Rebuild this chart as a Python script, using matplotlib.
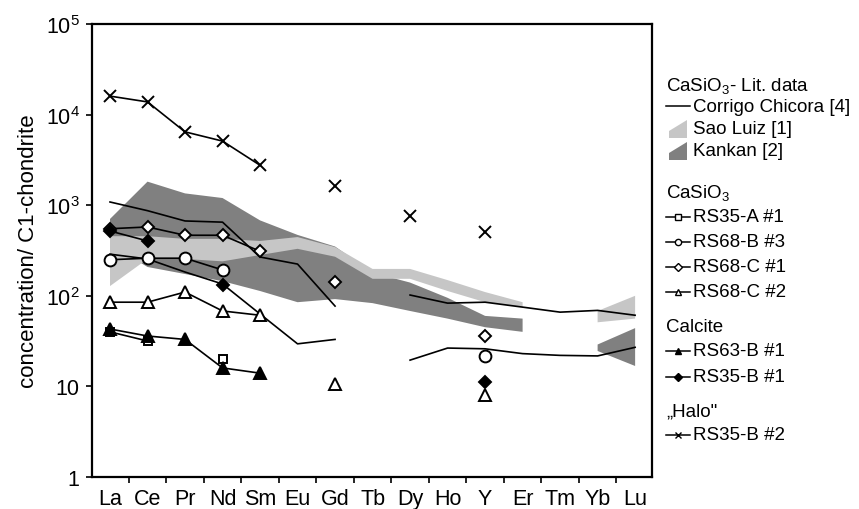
import numpy as np
import matplotlib
matplotlib.use("Agg")
import matplotlib.pyplot as plt
from matplotlib.patches import Polygon
from matplotlib.lines import Line2D

plt.rcParams['font.family'] = ['Liberation Sans', 'DejaVu Sans']
plt.rcParams['mathtext.fontset'] = 'custom'
plt.rcParams['mathtext.rm'] = 'Liberation Sans'
plt.rcParams['mathtext.it'] = 'Liberation Sans:italic'
plt.rcParams['mathtext.bf'] = 'Liberation Sans:bold'

nan = np.nan

# ── REE order (Y placed between Ho and Er) ───────────────────────────────────
elements = ['La', 'Ce', 'Pr', 'Nd', 'Sm', 'Eu', 'Gd', 'Tb',
            'Dy', 'Ho', 'Y', 'Er', 'Tm', 'Yb', 'Lu']

# ── literature data (CaSiO3) ─────────────────────────────────────────────────
# Corrigo Chicora [4] - upper and lower curve
cc_upper = [1085, 870, 670, 650, 268, 224, 77, nan, 102, 83, 85, 75, 66, 69, 61]
cc_lower = [288, 255, 183, 135, 63, 29.5, 33, nan, 19.5, 26.5, 26, 23, 22, 21.7, 27]

# Sao Luiz [1] - band
sl_top = [455, 455, 425, 425, 403, 445, 345, 198, 198, 149, 110, 85, nan, 68, 100]
sl_bot = [128, 255, 255, 240, 282, 330, 270, 154, 154, 113, 85, 75, nan, 51, 56]

# Kankan [2] - band
kk_top = [705, 1820, 1350, 1200, 680, 470, 350, 180, 140, 95, 60, 56, nan, 29, 44]
kk_bot = [370, 208, 174, 145, 113, 85, 92, 83, 68, 56, 45, 40, nan, 24.6, 16.8]

# ── samples ──────────────────────────────────────────────────────────────────
# CaSiO3
rs35a_1 = [40, 31.7, nan, 20, nan, nan, nan, nan, nan, nan, nan, nan, nan, nan, nan]
rs68b_3 = [250, 260, 260, 193, nan, nan, nan, nan, nan, nan, 21.6, nan, nan, nan, nan]
rs68c_1 = [550, 575, 466, 466, 310, nan, 142, nan, nan, nan, 36, nan, nan, nan, nan]
rs68c_2 = [85, 85, 110, 68, 61, nan, 10.6, nan, nan, nan, 8.0, nan, nan, nan, nan]
# Calcite
rs63b_1 = [43, 36, 33, 16, 14, nan, nan, nan, nan, nan, nan, nan, nan, nan, nan]
rs35b_1 = [519, 403, nan, 132, nan, nan, nan, nan, nan, nan, 11.2, nan, nan, nan, nan]
# "Halo"
rs35b_2 = [16000, 13800, 6450, 5100, 2760, nan, 1620, nan, 755, nan, 505,
           nan, nan, nan, nan]

LIGHT = '#c6c6c6'
DARK = '#808080'

x = np.arange(len(elements))

fig = plt.figure(figsize=(8.59, 5.10), dpi=100)
ax = fig.add_axes([92 / 859, 1 - 478 / 510, (652 - 92) / 859, (478 - 25) / 510])

# bands
ax.fill_between(x, np.array(kk_bot, float), np.array(kk_top, float),
                color=DARK, lw=0, zorder=1)
ax.fill_between(x, np.array(sl_bot, float), np.array(sl_top, float),
                color=LIGHT, lw=0, zorder=2)

# Corrigo Chicora curves
for curve in (cc_upper, cc_lower):
    ax.plot(x, curve, color='black', lw=1.2, zorder=3)

# sample series: (values, marker, facecolor, size)
series = [
    (rs35a_1, 's', 'white', 6),
    (rs68b_3, 'o', 'white', 8.5),
    (rs68c_1, 'D', 'white', 6.5),
    (rs68c_2, '^', 'white', 8.5),
    (rs63b_1, '^', 'black', 8.5),
    (rs35b_1, 'D', 'black', 6.5),
    (rs35b_2, 'x', 'black', 8.5),
]
for vals, mk, fc, ms in series:
    ax.plot(x, vals, color='black', lw=1.2, marker=mk, markersize=ms,
            markerfacecolor=fc, markeredgecolor='black', markeredgewidth=1.4,
            zorder=4)

ax.set_yscale('log')
ax.set_ylim(1, 1e5)
ax.set_xlim(-0.48, 14.45)
ax.set_yticks([1, 10, 100, 1e3, 1e4, 1e5])
ax.set_yticklabels(['1', '10', r'10$^{2}$', r'10$^{3}$', r'10$^{4}$', r'10$^{5}$'],
                   fontsize=15.5)
ax.yaxis.set_minor_locator(matplotlib.ticker.NullLocator())
ax.set_xticks(x)
ax.set_xticklabels(elements, fontsize=15.5)
ax.set_xticks(x[:-1] + 0.5, minor=True)
ax.tick_params(axis='x', which='major', length=0, pad=8)
ax.tick_params(axis='x', which='minor', length=4, width=1.2, direction='out')
ax.tick_params(axis='y', which='major', length=4, width=1.2, direction='out', pad=5)
for sp in ax.spines.values():
    sp.set_linewidth(1.6)
ax.set_ylabel('concentration/ C1-chondrite', fontsize=16, labelpad=5)

# ── legend (drawn in pixel space on an overlay) ──────────────────────────────
lax = fig.add_axes([0, 0, 1, 1])
lax.set_xlim(0, 859)
lax.set_ylim(510, 0)
lax.axis('off')
lax.patch.set_alpha(0)

fs = 13.5
hx0, hx1, tx = 666, 690, 693

def header(y, s):
    lax.text(hx0, y, s, fontsize=fs, va='center', ha='left')

def entry(y, s, marker=None, fc='white', ms=4.5):
    lax.add_line(Line2D([hx0, hx1], [y, y], color='black', lw=1.1))
    if marker:
        lax.plot([(hx0 + hx1) / 2], [y], marker=marker, ms=ms, mfc=fc,
                 mec='black', mew=1.0, ls='none')
    lax.text(tx, y, s, fontsize=fs, va='center', ha='left')

def band(y, s, color):
    lax.add_patch(Polygon([(669, y + 9), (687, y + 9), (687, y - 9), (669, y + 2)],
                          closed=True, color=color, lw=0))
    lax.text(tx, y, s, fontsize=fs, va='center', ha='left')

header(86, r'CaSiO$_3$- Lit. data')
entry(107, 'Corrigo Chicora [4]')
band(130, 'Sao Luiz [1]', LIGHT)
band(152, 'Kankan [2]', DARK)

header(193, r'CaSiO$_3$')
entry(218, 'RS35-A #1', 's', ms=4)
entry(243, 'RS68-B #3', 'o')
entry(268, 'RS68-C #1', 'D', ms=4)
entry(293, 'RS68-C #2', '^')

header(328, 'Calcite')
entry(352, 'RS63-B #1', '^', fc='black')
entry(378, 'RS35-B #1', 'D', fc='black', ms=4)

header(412, '\u201eHalo"')
entry(436, 'RS35-B #2', 'x', ms=5)

fig.savefig('out.png', dpi=100)
